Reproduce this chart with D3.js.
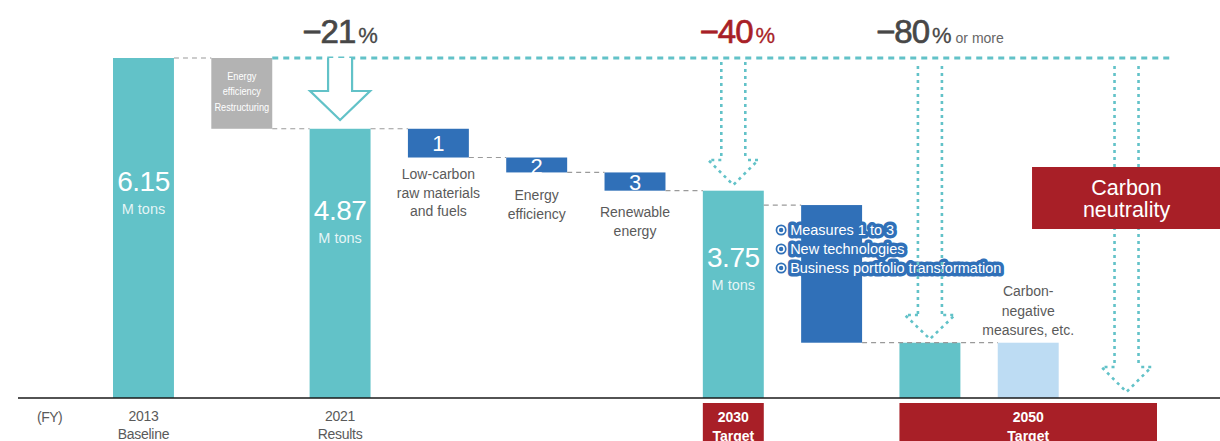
<!DOCTYPE html>
<html><head><meta charset="utf-8">
<script src="https://cdn.jsdelivr.net/npm/d3@7"></script>
<style>
html,body{margin:0;padding:0;background:#fff;}
svg{display:block;font-family:"Liberation Sans",Arial,Helvetica,sans-serif;}
</style></head>
<body><svg id="chart" width="1220" height="441"></svg>
<script>
// ---------- data ----------
const categories = ["2013 Baseline","Energy efficiency / Restructuring","2021 Results",
  "Low-carbon raw materials and fuels","Energy efficiency","Renewable energy",
  "2030 Target","Measures","2050 Target","Carbon-negative measures","Carbon neutrality"];
const startValues = [0, 6.15, 0, 4.87, 4.35, 4.08, 0, 3.49, 0, 0];
const endValues   = [6.15, 4.87, 4.87, 4.35, 4.08, 3.75, 3.75, 1.0, 1.0, 1.0];
const barKinds    = ["total","reduction","total","measure","measure","measure","total","measure","total","negative"];
const valueLabelIdx = [0, 2, 6];
const valueLabels = ["6.15","4.87","3.75"];
const stepIdx = [3, 4, 5];
const stepNumbers = ["1","2","3"];
const stepLabels = [["Low-carbon","raw materials","and fuels"],["Energy","efficiency"],["Renewable","energy"]];
const reductionText = ["Energy","efficiency","Restructuring"];
const pctIdx = [2, 6, 8];
const pctNumbers = ["\u221221","\u221240","\u221280"];
const pctExtras = ["","","or more"];
const measureItems = ["Measures 1 to 3","New technologies","Business portfolio transformation"];
const negativeLabel = ["Carbon-","negative","measures, etc."];
const neutralityLabel = ["Carbon","neutrality"];
const fyIdx = [0, 2];
const fyYears = ["2013","2021"];
const fySubs = ["Baseline","Results"];
const targetYears = ["2030","2050"];

// ---------- style ----------
const TEAL="#62c2c8", GRAY="#b3b3b3", BLUE="#3070b8", LIGHT="#bddcf3", RED="#a81f27", DARK="#474747", TXT="#5a5a5a";
const kindColor = {total:TEAL, reduction:GRAY, measure:BLUE, negative:LIGHT};

const svg = d3.select("#chart");
const x = d3.scaleBand().domain(categories).range([113, 1157]).paddingInner(0.38).paddingOuter(0);
const y = d3.scaleLinear().domain([0, 6.15]).range([398, 58]);
const bw = x.bandwidth();
const cx = i => x(categories[i]) + bw/2;

// bars
const bars = endValues.map((v,i)=>({i, s:startValues[i], e:v, k:barKinds[i]}));
svg.append("g").selectAll("rect").data(bars).join("rect")
  .attr("x", d=>x(categories[d.i])).attr("width", bw)
  .attr("y", d=>y(Math.max(d.s,d.e))).attr("height", d=>Math.abs(y(d.s)-y(d.e)))
  .attr("fill", d=>kindColor[d.k]);

// gray dashed connectors
const conns = [[0,1,6.15],[1,2,4.87],[2,3,4.87],[3,4,4.35],[4,5,4.08],[5,6,3.75],[6,7,3.49],[7,9,1.0]];
svg.append("g").selectAll("line").data(conns).join("line")
  .attr("x1", d=>x(categories[d[0]])+bw).attr("x2", d=>x(categories[d[1]]))
  .attr("y1", d=>y(d[2])).attr("y2", d=>y(d[2]))
  .attr("stroke","#9a9a9a").attr("stroke-width",1.2).attr("stroke-dasharray","5,4");

// teal top dashed line
svg.append("line").attr("x1", x(categories[1])+bw).attr("x2", 1170)
  .attr("y1", y(6.15)).attr("y2", y(6.15))
  .attr("stroke",TEAL).attr("stroke-width",3).attr("stroke-dasharray","6,5");

// hollow arrow (-21%)
{
  const c = cx(2), t = y(6.15);
  const pts = [[c-12,t],[c-12,91],[c-30,91],[c,120],[c+30,91],[c+12,91],[c+12,t]];
  svg.append("path").attr("d", d3.line()(pts)).attr("fill","#fff").attr("stroke",TEAL).attr("stroke-width",2.2);
}
// dotted arrows
function dotted(c, top, headY, tipY){
  const g = svg.append("g").attr("fill","none").attr("stroke",TEAL).attr("stroke-width",2.6).attr("stroke-dasharray","3,4");
  g.append("path").attr("d", d3.line()([[c-12,top],[c-12,headY]]));
  g.append("path").attr("d", d3.line()([[c+12,top],[c+12,headY]]));
  g.append("path").attr("d", d3.line()([[c-12,headY],[c-25,headY],[c,tipY],[c+25,headY],[c+12,headY]]));
}
dotted(cx(6), 62, 160, 185);

// value labels inside total bars
const vlY = [[191,214],[220,243],[267,290]];
valueLabelIdx.forEach((idx,j)=>{
  svg.append("text").attr("x",cx(idx)).attr("y",vlY[j][0]).attr("text-anchor","middle")
    .attr("fill","#fff").attr("font-size",28).attr("letter-spacing",-0.5).text(valueLabels[j]);
  svg.append("text").attr("x",cx(idx)).attr("y",vlY[j][1]).attr("text-anchor","middle")
    .attr("fill","#fff").attr("fill-opacity",0.85).attr("font-size",14.5).text("M tons");
});

// reduction (gray) bar text
{
  const g = svg.append("g").attr("transform",`translate(${cx(1)},0) scale(0.8,1)`);
  reductionText.forEach((t,k)=>g.append("text").attr("x",0).attr("y",80+k*15.5)
    .attr("text-anchor","middle").attr("fill","#fff").attr("font-size",11.5).text(t));
}

// step numbers and labels
const numY = [151,174,190];
const lblY = [179,200,217];
stepIdx.forEach((idx,j)=>{
  svg.append("text").attr("x",cx(idx)).attr("y",numY[j]).attr("text-anchor","middle")
    .attr("fill","#fff").attr("font-size",22).text(stepNumbers[j]);
  stepLabels[j].forEach((t,k)=>svg.append("text").attr("x",cx(idx)).attr("y",lblY[j]+k*18.5)
    .attr("text-anchor","middle").attr("fill",TXT).attr("font-size",14).text(t));
});

// measures bullet list
measureItems.forEach((t,k)=>{
  const yy = 235 + k*19;
  const bx = x(categories[7]) - 20;
  svg.append("circle").attr("cx",bx).attr("cy",yy-5).attr("r",5.5).attr("fill",BLUE);
  svg.append("circle").attr("cx",bx).attr("cy",yy-5).attr("r",3).attr("fill",BLUE).attr("stroke","#fff").attr("stroke-width",1.6);
  svg.append("text").attr("x",bx+9).attr("y",yy).attr("font-size",14.5)
    .attr("fill","#fff").attr("stroke",BLUE).attr("stroke-width",7).attr("stroke-linejoin","round")
    .attr("paint-order","stroke").text(t);
});

dotted(cx(8), 66, 315, 339);
dotted(cx(10), 66, 367, 392);

// carbon-negative label
negativeLabel.forEach((t,k)=>svg.append("text").attr("x",cx(9)).attr("y",296+k*19.5)
  .attr("text-anchor","middle").attr("fill",TXT).attr("font-size",14).text(t));

// carbon neutrality box
{
  const c = cx(10);
  svg.append("rect").attr("x",c-94.5).attr("width",189).attr("y",167).attr("height",62).attr("fill",RED);
  neutralityLabel.forEach((t,k)=>svg.append("text").attr("x",c).attr("y",195+k*22)
    .attr("text-anchor","middle").attr("fill","#fff").attr("font-size",21.5).text(t));
}

// percentage headings
const pctColors = [DARK, RED, DARK];
const pctOffsets = [0, 4, 10];
pctIdx.forEach((idx,j)=>{
  const t = svg.append("text").attr("x",cx(idx)+pctOffsets[j]).attr("y",43).attr("text-anchor","middle")
    .attr("fill",pctColors[j]);
  t.append("tspan").attr("font-size",33).attr("letter-spacing",-1)
    .attr("stroke",pctColors[j]).attr("stroke-width",0.7).text(pctNumbers[j]);
  t.append("tspan").attr("font-size",22).attr("dx",3).attr("stroke",pctColors[j]).attr("stroke-width",0.3).text("%");
  if (pctExtras[j]) t.append("tspan").attr("font-size",14).attr("fill","#666").attr("dx",4).text(pctExtras[j]);
});

// axis baseline
svg.append("line").attr("x1",18).attr("x2",1220).attr("y1",y(0)).attr("y2",y(0))
  .attr("stroke","#1a1a1a").attr("stroke-width",1.5);

// FY labels
svg.append("text").attr("x",37).attr("y",422).attr("fill",TXT).attr("font-size",14).attr("letter-spacing",-0.5).text("(FY)");
fyIdx.forEach((idx,j)=>{
  svg.append("text").attr("x",cx(idx)).attr("y",421).attr("text-anchor","middle").attr("fill",TXT).attr("font-size",14).attr("letter-spacing",-0.3).text(fyYears[j]);
  svg.append("text").attr("x",cx(idx)).attr("y",439).attr("text-anchor","middle").attr("fill",TXT).attr("font-size",14).attr("letter-spacing",-0.3).text(fySubs[j]);
});
// target boxes
const targetSpans = [[6,6],[8,10]];
targetSpans.forEach((sp,j)=>{
  const x0 = x(categories[sp[0]]), x1 = x(categories[sp[1]]) + bw;
  svg.append("rect").attr("x",x0).attr("width",x1-x0).attr("y",403).attr("height",40).attr("fill",RED);
  svg.append("text").attr("x",(x0+x1)/2).attr("y",422).attr("text-anchor","middle").attr("fill","#fff").attr("font-size",14).attr("font-weight","bold").text(targetYears[j]);
  svg.append("text").attr("x",(x0+x1)/2).attr("y",441).attr("text-anchor","middle").attr("fill","#fff").attr("font-size",14).attr("font-weight","bold").text("Target");
});
</script></body></html>
